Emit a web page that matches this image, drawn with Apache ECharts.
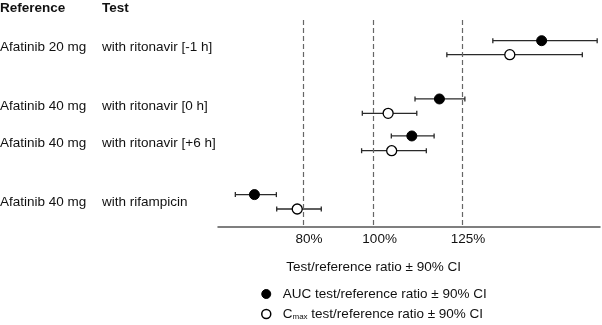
<!DOCTYPE html>
<html>
<head>
<meta charset="utf-8">
<script src="https://cdn.jsdelivr.net/npm/echarts@6/dist/echarts.min.js"></script>
<style>
  html, body { margin: 0; padding: 0; background: #fff; }
  #chart { width: 602px; height: 325px; }
</style>
</head>
<body>
<div id="chart"></div>
<script>
// rows, top to bottom
const refLabels = ['Afatinib 20 mg', 'Afatinib 40 mg', 'Afatinib 40 mg', 'Afatinib 40 mg'];
const testLabels = ['with ritonavir [-1 h]', 'with ritonavir [0 h]', 'with ritonavir [+6 h]', 'with rifampicin'];
// vertical slot of each marker (rows are not evenly spaced)
const aucY = [1.08, 4.12, 6.05, 9.11];
const cmaxY = [1.81, 4.87, 6.82, 9.86];

// test/reference ratio (%) with 90% CI
const aucRatio = [147.5, 118.6, 110.8, 66.3];
const aucLo = [133.7, 111.7, 105.0, 60.9];
const aucHi = [163.2, 125.8, 117.1, 72.5];
const cmaxRatio = [138.5, 104.1, 105.1, 78.4];
const cmaxLo = [120.7, 96.8, 96.6, 72.6];
const cmaxHi = [159.0, 112.2, 114.9, 85.2];

const refLines = [80, 100, 125];
const tickLabels = ['80%', '100%', '125%'];

const font = 'Liberation Sans, Arial, sans-serif';
const fs = 13.5;
const dom = document.getElementById('chart');
const chart = echarts.init(dom, null, { renderer: 'canvas' });

function errBars(lo, hi, ys) {
  return lo.map((l, i) => [l, hi[i], ys[i]]);
}

function renderBar(params, api) {
  const a = api.coord([api.value(0), api.value(2)]);
  const b = api.coord([api.value(1), api.value(2)]);
  const cap = 2.5;
  const st = { stroke: '#2a2a2a', lineWidth: 1.3 };
  return {
    type: 'group',
    children: [
      { type: 'line', shape: { x1: a[0], y1: a[1], x2: b[0], y2: b[1] }, style: st },
      { type: 'line', shape: { x1: a[0], y1: a[1] - cap, x2: a[0], y2: a[1] + cap }, style: st },
      { type: 'line', shape: { x1: b[0], y1: b[1] - cap, x2: b[0], y2: b[1] + cap }, style: st }
    ]
  };
}

const option = {
  animation: false,
  grid: { left: 218, right: 2, top: 20, bottom: 98 },
  xAxis: {
    type: 'value',
    position: 'bottom',
    min: 56,
    max: 164,
    axisLine: { show: true, onZero: false, lineStyle: { color: '#555', width: 1.5 } },
    axisTick: { show: false },
    splitLine: { show: false },
    axisLabel: {
      customValues: refLines,
      formatter: v => tickLabels[refLines.indexOf(v)] || '',
      color: '#111',
      fontFamily: font,
      fontSize: fs,
      margin: 5,
      padding: [0, 0, 0, 12]
    }
  },
  yAxis: {
    type: 'value',
    inverse: true,
    min: 0,
    max: 10.8,
    show: false
  },
  legend: {
    orient: 'vertical',
    left: 261,
    top: 287,
    padding: 0,
    itemWidth: 9,
    itemHeight: 9,
    itemGap: 6,
    icon: 'circle',
    data: [
      { name: 'AUC', itemStyle: { color: '#000', borderColor: '#000', borderWidth: 1 } },
      { name: 'Cmax', itemStyle: { color: '#fff', borderColor: '#000', borderWidth: 1.5 } }
    ],
    formatter: name => name === 'AUC'
      ? '{t|AUC test/reference ratio ± 90% CI}'
      : '{t|C}{s|max}{t| test/reference ratio ± 90% CI}',
    textStyle: {
      padding: [0, 0, 0, 7],
      rich: {
        t: { fontFamily: font, fontSize: fs, color: '#111', lineHeight: 14 },
        s: { fontFamily: font, fontSize: 8, color: '#111', verticalAlign: 'bottom', padding: [6, 0, 0, 0], lineHeight: 14 }
      }
    }
  },
  series: [
    {
      type: 'line',
      data: [],
      silent: true,
      markLine: {
        symbol: 'none',
        silent: true,
        label: { show: false },
        lineStyle: { color: '#666', type: [5, 3], width: 1.2 },
        data: refLines.map(v => ({ xAxis: v }))
      }
    },
    {
      type: 'custom',
      renderItem: renderBar,
      data: errBars(aucLo, aucHi, aucY),
      encode: { x: [0, 1], y: 2 },
      z: 2
    },
    {
      type: 'custom',
      renderItem: renderBar,
      data: errBars(cmaxLo, cmaxHi, cmaxY),
      encode: { x: [0, 1], y: 2 },
      z: 2
    },
    {
      name: 'AUC',
      type: 'scatter',
      symbolSize: 10,
      itemStyle: { color: '#000', borderColor: '#000', borderWidth: 1, opacity: 1 },
      data: aucRatio.map((v, i) => [v, aucY[i]]),
      z: 3
    },
    {
      name: 'Cmax',
      type: 'scatter',
      symbolSize: 10,
      itemStyle: { color: '#fff', borderColor: '#000', borderWidth: 1.3, opacity: 1 },
      data: cmaxRatio.map((v, i) => [v, cmaxY[i]]),
      z: 3
    }
  ]
};

chart.setOption(option);

// row labels and headings placed against the axes
const txt = (text, x, y, extra) => ({
  type: 'text',
  x: x,
  y: y,
  style: Object.assign({
    text: text,
    fontFamily: font,
    fontSize: fs,
    fill: '#111',
    verticalAlign: 'middle'
  }, extra || {})
});

const graphics = [
  txt('Reference', 0, 8, { fontWeight: 'bold' }),
  txt('Test', 102, 8, { fontWeight: 'bold' })
];
refLabels.forEach((r, i) => {
  const y = chart.convertToPixel({ gridIndex: 0 }, [100, (aucY[i] + cmaxY[i]) / 2])[1];
  graphics.push(txt(r, 0, y));
  graphics.push(txt(testLabels[i], 102, y));
});
const mid = chart.convertToPixel({ gridIndex: 0 }, [100, 0])[0];
graphics.push(txt('Test/reference ratio ± 90% CI', mid, 267, { align: 'center' }));

chart.setOption({ graphic: graphics });
</script>
</body>
</html>
